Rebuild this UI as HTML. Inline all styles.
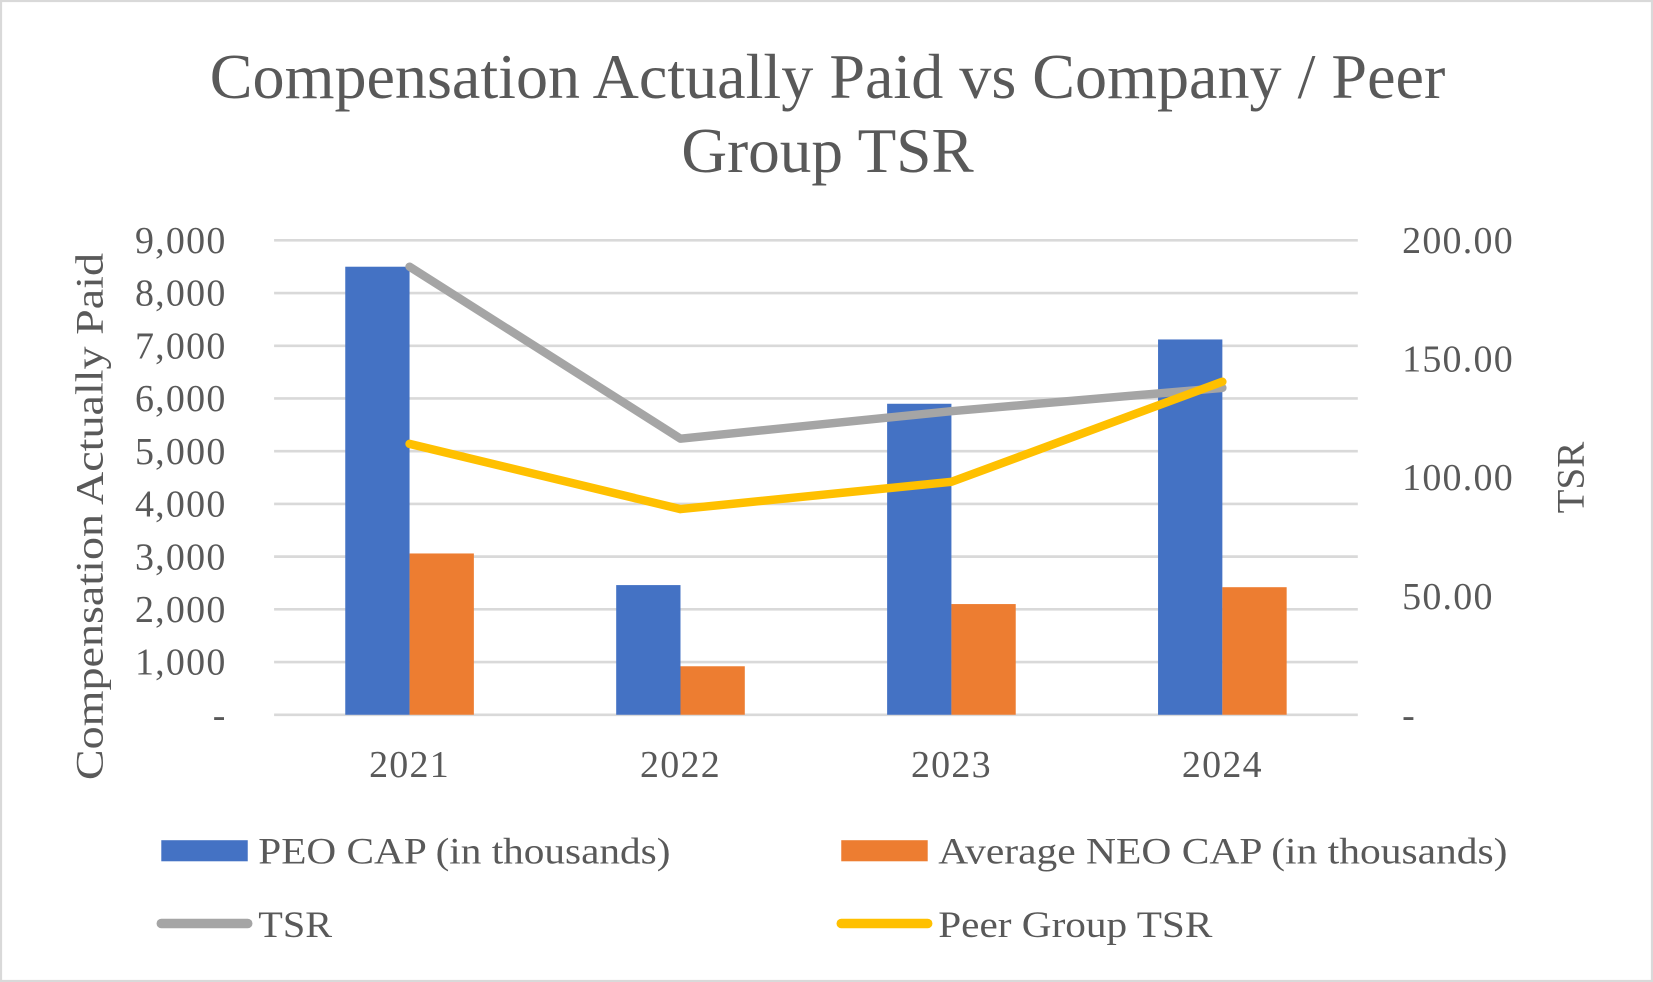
<!DOCTYPE html>
<html><head><meta charset="utf-8"><style>
html,body{margin:0;padding:0;background:#fff;}
svg{display:block;font-family:"Liberation Serif",serif;}
</style></head><body>
<svg id="chart" width="1653" height="982" viewBox="0 0 1568 931.5" xmlns="http://www.w3.org/2000/svg">
<rect x="1" y="1" width="1566" height="929.5" fill="#fff" stroke="#d9d9d9" stroke-width="2"/>
<text text-anchor="middle" font-size="60" fill="#595959"><tspan x="785" y="93" textLength="1172" lengthAdjust="spacingAndGlyphs">Compensation Actually Paid vs Company / Peer</tspan><tspan x="785" y="163">Group TSR</tspan></text>
<g id="grid"></g>
<g id="bars"></g>
<g id="lines"></g>
<g id="axes"></g>
<text transform="translate(97,490) rotate(-90)" text-anchor="middle" font-size="37" fill="#595959" textLength="500" lengthAdjust="spacingAndGlyphs">Compensation Actually Paid</text>
<text transform="translate(1502,453) rotate(-90)" text-anchor="middle" font-size="37" fill="#595959">TSR</text>
<g font-size="35" fill="#595959">
<rect x="153" y="797" width="82" height="20" fill="#4472c4"/>
<text x="245" y="819" textLength="391" lengthAdjust="spacingAndGlyphs">PEO CAP (in thousands)</text>
<rect x="798" y="797" width="82" height="20" fill="#ed7d31"/>
<text x="890" y="819" textLength="540" lengthAdjust="spacingAndGlyphs">Average NEO CAP (in thousands)</text>
<line x1="153" y1="876" x2="235" y2="876" stroke="#a5a5a5" stroke-width="9" stroke-linecap="round"/>
<text x="245" y="889" textLength="70" lengthAdjust="spacingAndGlyphs">TSR</text>
<line x1="798" y1="876" x2="880" y2="876" stroke="#ffc000" stroke-width="9" stroke-linecap="round"/>
<text x="890" y="889" textLength="260" lengthAdjust="spacingAndGlyphs">Peer Group TSR</text>
</g>
</svg>
<script>
const categories=["2021","2022","2023","2024"];
const peoCap=[8500,2460,5900,7120];
const neoCap=[3060,920,2100,2420];
const tsr=[188.9,116.4,128,137.8];
const peerTsr=[114.2,86.7,98.2,140.4];
const leftTicks=["-","1,000","2,000","3,000","4,000","5,000","6,000","7,000","8,000","9,000"];
const rightTicks=["-","50.00","100.00","150.00","200.00"];
const NS="http://www.w3.org/2000/svg";
const L=260,R=1288,T=228,B=678,leftMax=9000,rightMax=200;
const yL=v=>B-(v/leftMax)*(B-T);
const yR=v=>B-(v/rightMax)*(B-T);
const band=(R-L)/categories.length;
const xC=i=>L+band*(i+0.5);
const barW=61;
function mk(tag,attrs,parent){const e=document.createElementNS(NS,tag);for(const k in attrs)e.setAttribute(k,attrs[k]);document.getElementById(parent).appendChild(e);return e;}
leftTicks.forEach((t,i)=>{
  const v=i*1000;
  const g=mk('line',{x1:L,x2:R,y1:yL(v),y2:yL(v),stroke:'#d9d9d9','stroke-width':2.5},'grid');
  
  
  const tx=mk('text',{x:215,y:yL(v)+12,'text-anchor':'end','font-size':36,'letter-spacing':1.2,fill:'#595959'},'axes');
  tx.textContent=t;
  
  
});
rightTicks.forEach((t,i)=>{
  const v=i*50;
  const tx=mk('text',{x:1330,y:yR(v)+12,'text-anchor':'start','font-size':36,'letter-spacing':1.2,fill:'#595959'},'axes');
  tx.textContent=t;
  
  
});
categories.forEach((c,i)=>{
  const tx=mk('text',{x:xC(i),y:737,'text-anchor':'middle','font-size':36,'letter-spacing':1.2,fill:'#595959'},'axes');
  tx.textContent=c;
  
  
  const b1=mk('rect',{x:xC(i)-barW,y:yL(peoCap[i]),width:barW,height:B-yL(peoCap[i]),fill:'#4472c4'},'bars');
  
  
  const b2=mk('rect',{x:xC(i),y:yL(neoCap[i]),width:barW,height:B-yL(neoCap[i]),fill:'#ed7d31'},'bars');
  
  
});
const pts=a=>a.map((v,i)=>xC(i)+','+yR(v)).join(' ');
const l1=mk('polyline',{points:pts(tsr),fill:'none',stroke:'#a5a5a5','stroke-width':8,'stroke-linecap':'round','stroke-linejoin':'round'},'lines');


const l2=mk('polyline',{points:pts(peerTsr),fill:'none',stroke:'#ffc000','stroke-width':8,'stroke-linecap':'round','stroke-linejoin':'round'},'lines');


</script>
</body></html>
